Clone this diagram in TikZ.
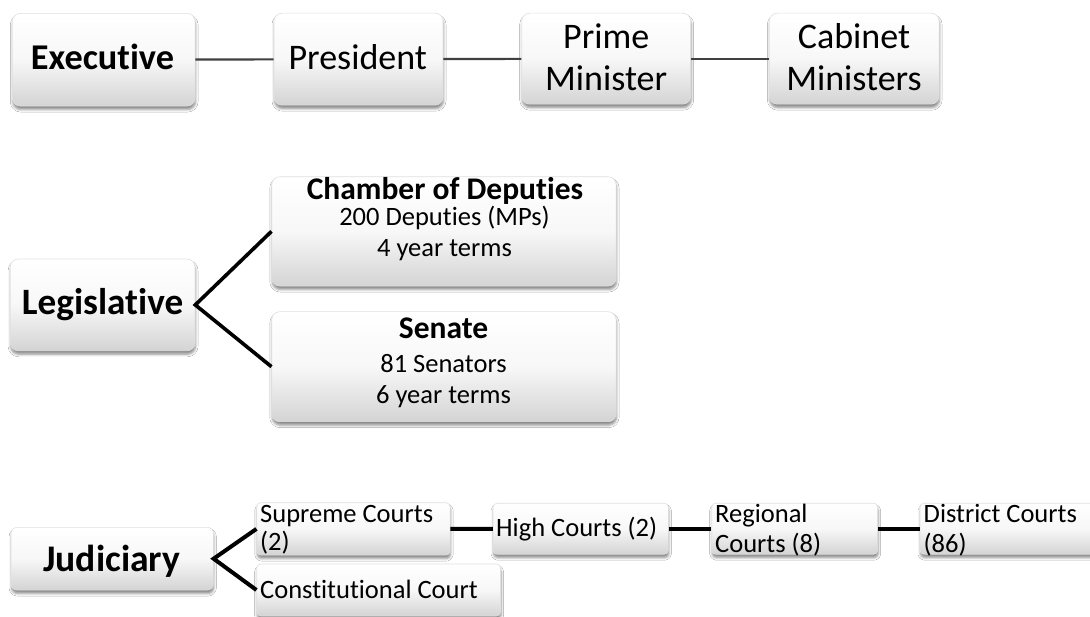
\documentclass[tikz,border=0pt]{standalone}
\usepackage{fontspec}
\setmainfont{Carlito}[Ligatures=NoCommon]
\usetikzlibrary{shadows.blur,calc}
\begin{document}
\begin{tikzpicture}[x=1pt,y=-1pt,
  box/.style={rectangle, rounded corners=8pt, draw=black!12, line width=0.6pt,
    top color=white, bottom color=black!17, middle color=black!3,
    blur shadow={shadow xshift=0.5pt, shadow yshift=-3.5pt, shadow blur radius=2.5pt, shadow opacity=45}},
  jbox/.style={box, rounded corners=4pt},
  lbl/.style={inner sep=0pt, anchor=base},
  jlbl/.style={inner sep=0pt, anchor=base west, font=\fontsize{26.5}{30}\selectfont},
  big/.style={font=\fontsize{36}{42}\selectfont},
  mid/.style={font=\fontsize{26.5}{30}\selectfont},
  midb/.style={font=\fontsize{31.5}{36}\selectfont\bfseries},
  eline/.style={draw=black!75, line width=2.2pt},
  kline/.style={draw=black, line width=3.6pt, line join=miter},
  jline/.style={draw=black, line width=4pt, line join=miter}]
\clip (0,0) rectangle (1090,617);
\fill[white] (0,0) rectangle (1090,617);

% Executive row
\node[box, minimum width=182.7, minimum height=92.7] (exec) at (103.7,59.7) {};
\node[box, minimum width=169, minimum height=92] (pres) at (358.5,59.2) {};
\node[box, minimum width=169, minimum height=91] (pm) at (606.2,58.7) {};
\node[box, minimum width=169.7, minimum height=91] (cab) at (854.2,58.7) {};
\node[lbl, font=\fontsize{36.3}{42}\selectfont\bfseries] (execT) at (102.5,69.3) {Executive};
\node[lbl, big] (presT) at (357.8,69.3) {President};
\node[lbl, big] (pmT1) at (606.2,49) {Prime};
\node[lbl, big] (pmT2) at (606.2,90.7) {Minister};
\node[lbl, big] (cabT1) at (854,49) {Cabinet};
\node[lbl, big] (cabT2) at (854,90.7) {Ministers};
\draw[eline] (exec) -- (pres);
\draw[eline] (pres) -- (pm);
\draw[eline] (pm) -- (cab);

% Legislative
\node[box, minimum width=184.8, minimum height=91.7] (leg) at (102.6,304.9) {};
\node[box, minimum width=344.3, minimum height=109.3] (cham) at (443.9,231.4) {};
\node[box, minimum width=344.3, minimum height=110] (sen) at (443.9,366.7) {};
\node[lbl, font=\fontsize{37.2}{42}\selectfont\bfseries] (legT) at (102.6,315) {Legislative};
\node[lbl, midb] (chamT1) at (445,199.3) {Chamber of Deputies};
\node[lbl, mid] (chamT2) at (444.5,226) {200 Deputies (MPs)};
\node[lbl, mid] (chamT3) at (444.5,256.7) {4 year terms};
\node[lbl, midb] (senT1) at (443.5,339) {Senate};
\node[lbl, mid] (senT2) at (443.5,372.3) {81 Senators};
\node[lbl, mid] (senT3) at (443.5,404) {6 year terms};
\draw[kline] (cham.west) -- (leg.east) -- (sen.west);

% Judiciary
\node[box, rounded corners=6pt, minimum width=202.3, minimum height=62.7] (jud) at (112.2,558.7) {};
\node[jbox, minimum width=193.3, minimum height=52.3] (sup) at (353.4,528.9) {};
\node[jbox, minimum width=243.8, minimum height=52] (con) at (378.6,590) {};
\node[jbox, minimum width=175.3, minimum height=51] (high) at (580.7,528.7) {};
\node[jbox, minimum width=166, minimum height=51] (reg) at (794.7,528.7) {};
\node[jbox, minimum width=200, minimum height=51] (dist) at (1020,528.7) {};
\node[lbl, font=\fontsize{37.6}{42}\selectfont\bfseries] (judT) at (111.7,571.7) {Judiciary};
\node[jlbl] (supT1) at (260,522.3) {Supreme Courts};
\node[jlbl] (supT2) at (260,550) {(2)};
\node[jlbl] (conT) at (260,598.3) {Constitutional Court};
\node[jlbl] (highT) at (496,536.7) {High Courts (2)};
\node[jlbl] (regT1) at (715,522.3) {Regional};
\node[jlbl] (regT2) at (715,552.3) {Courts (8)};
\node[jlbl] (distT1) at (923.5,522.3) {District Courts};
\node[jlbl] (distT2) at (923.5,552.3) {(86)};
\draw[jline] (sup.west) -- (jud.east) -- (con.west);
\draw[jline] (sup) -- (high);
\draw[jline] (high) -- (reg);
\draw[jline] (reg) -- (dist);
\end{tikzpicture}
\end{document}
